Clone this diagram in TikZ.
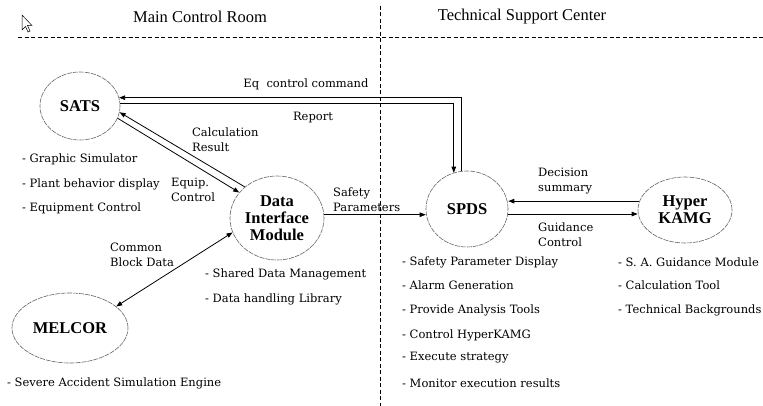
\documentclass[tikz,border=0pt]{standalone}
\usepackage{fontspec}
\setmainfont{DejaVu Serif}
\newfontfamily\titlefont{Liberation Serif}
\usetikzlibrary{shapes.geometric,arrows.meta}
\begin{document}
\begin{tikzpicture}[x=1pt,y=-1pt,
  ell/.style={ellipse, draw=black!60, line width=0.6pt, dash pattern=on 5pt off 1pt,
    inner sep=0pt, font=\titlefont\bfseries\fontsize{16.5}{17}\selectfont, align=center},
  lbl/.style={font=\fontsize{11.5}{15}\selectfont, align=left, inner sep=0pt},
  item/.style={lbl, anchor=west},
  conn/.style={line width=0.8pt, -{Triangle[length=6pt,width=4.5pt]}},
  biconn/.style={line width=0.8pt, {Triangle[length=6pt,width=4.5pt]}-{Triangle[length=6pt,width=4.5pt]}},
  ttl/.style={font=\titlefont\fontsize{16.5}{18}\selectfont, inner sep=0pt},
  sep/.style={line width=0.7pt, dash pattern=on 4pt off 2.5pt}]
\useasboundingbox (0,0) rectangle (763,406);
\fill[white] (0,0) rectangle (763,406);

% cursor
\draw[line width=0.5pt, fill=white] (22,15) -- (22,30) -- (25.5,26.5) -- (28,32) -- (30,31) -- (27.5,25.5) -- (32,25.5) -- cycle;

% titles and separators
\node[ttl] (t1) at (200,17) {Main Control Room};
\node[ttl] (t2) at (522,17) {Technical Support Center};
\coordinate (hl) at (18,37);
\coordinate (hr) at (763,37);
\coordinate (vt) at (380,6);
\coordinate (vb) at (380,406);
\draw[sep] (hl) -- (hr);
\draw[sep] (vt) -- (vb);

% nodes
\node[ell, minimum width=80pt, minimum height=68pt] (sats) at (80,106) {SATS};
\node[ell, minimum width=94pt, minimum height=84pt] (dim) at (277,218) {Data\\Interface\\Module};
\node[ell, minimum width=82pt, minimum height=76pt] (spds) at (467,209) {SPDS};
\node[ell, minimum width=94pt, minimum height=66pt] (hyper) at (685,210) {Hyper\\KAMG};
\node[ell, minimum width=116pt, minimum height=70pt] (melcor) at (70,328) {MELCOR};

% connectors
\draw[conn] (spds.99) |- (sats.12);
\draw[conn] (sats.3) -| (spds.110);
\draw[conn] (dim.136) -- (sats.-9);
\draw[conn] (sats.-18) -- (dim.146);
\draw[conn] (dim.4) -- (dim.4 -| spds.west);
\draw[conn] (hyper.169) -- (hyper.169 -| spds.east);
\draw[conn] (spds.-7) -- (spds.-7 -| hyper.west);
\draw[biconn] (melcor.25) -- (dim.198);

% connector labels
\node[lbl] (leq) at (306,84) {Eq\ \ control command};
\node[lbl] (lrep) at (313,118) {Report};
\node[lbl, anchor=west] (lcalc) at (192,140) {Calculation\\Result};
\node[lbl, anchor=west] (lequip) at (171,190) {Equip.\\Control};
\node[lbl, anchor=west] (lsafe) at (333,200) {Safety\\Parameters};
\node[lbl, anchor=west] (ldec) at (538,181) {Decision\\summary};
\node[lbl, anchor=west] (lguid) at (538,235) {Guidance\\Control};
\node[lbl, anchor=west] (lcomm) at (110,255) {Common\\Block Data};

% lists
\node[item] (s1) at (22,159) {- Graphic Simulator};
\node[item] (s2) at (22,184) {- Plant behavior display};
\node[item] (s3) at (22,208) {- Equipment Control};
\node[item] (d1) at (205,274) {- Shared Data Management};
\node[item] (d2) at (205,299) {- Data handling Library};
\node[item] (m1) at (7,383) {- Severe Accident Simulation Engine};
\node[item] (p1) at (402,262) {- Safety Parameter Display};
\node[item] (p2) at (402,285) {- Alarm Generation};
\node[item] (p3) at (402,310) {- Provide Analysis Tools};
\node[item] (p4) at (402,335) {- Control HyperKAMG};
\node[item] (p5) at (402,358) {- Execute strategy};
\node[item] (p6) at (402,383) {- Monitor execution results};
\node[item] (h1) at (618,262) {- S. A. Guidance Module};
\node[item] (h2) at (618,285) {- Calculation Tool};
\node[item] (h3) at (618,310) {- Technical Backgrounds};
\end{tikzpicture}
\end{document}
